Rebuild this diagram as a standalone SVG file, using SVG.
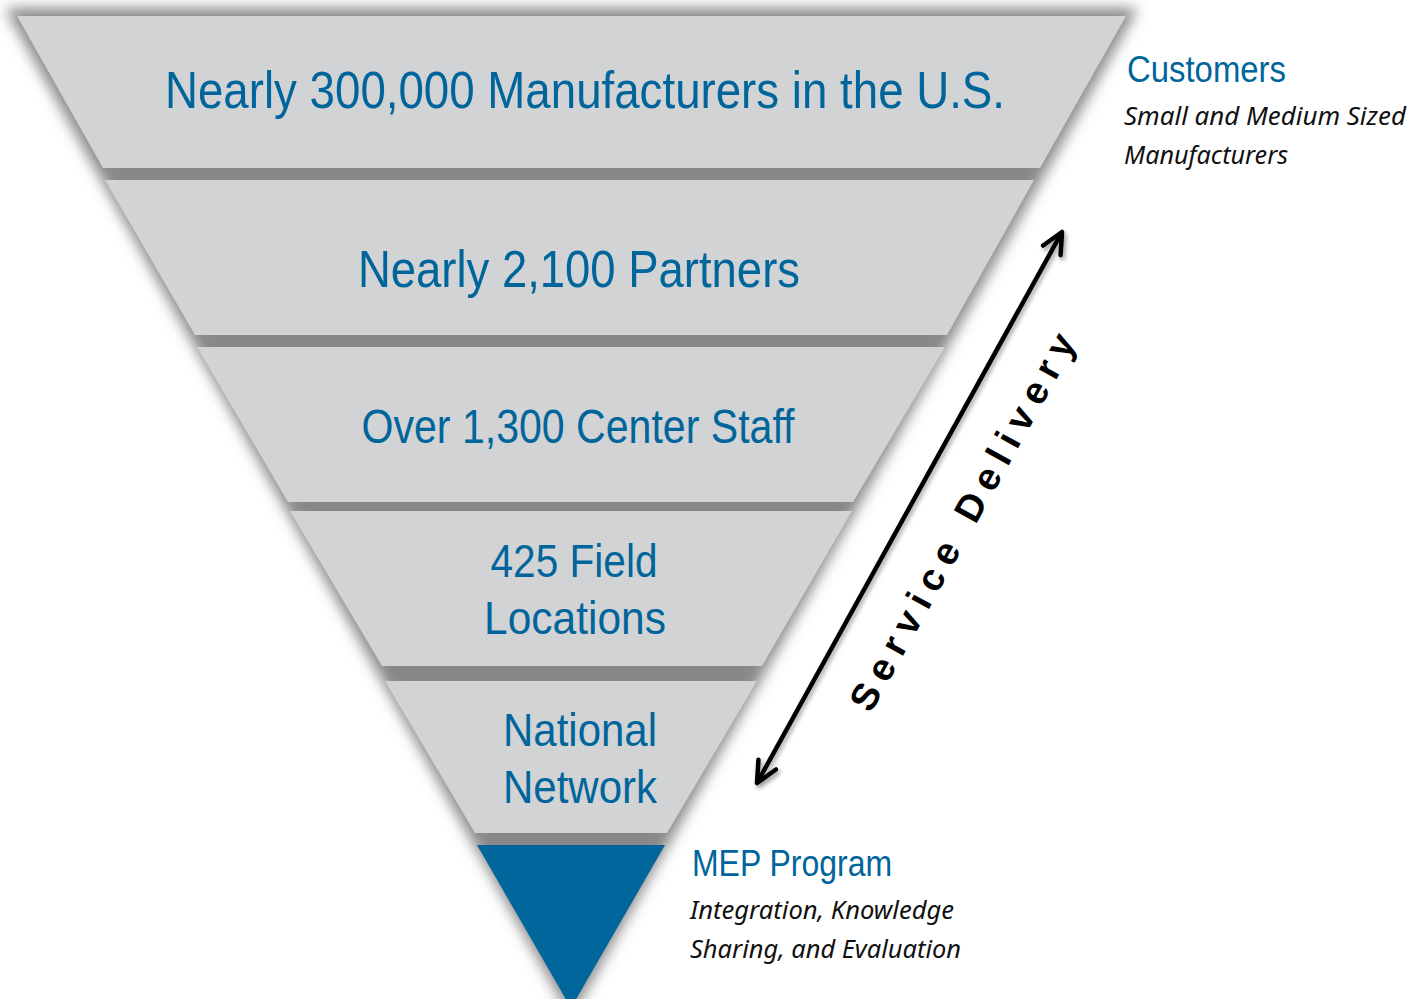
<svg xmlns="http://www.w3.org/2000/svg" width="1426" height="999" viewBox="0 0 1426 999">
<style>
.band{fill:#d2d3d5}
.lbl{font-family:"Liberation Sans",Arial,sans-serif;fill:#00659b;text-anchor:middle}
.side{font-family:"Liberation Sans",Arial,sans-serif;fill:#00659b}
.note{font-family:"Noto Sans","Open Sans",sans-serif;font-style:italic;fill:#111;font-size:25px}
.sd{font-family:"Liberation Sans",Arial,sans-serif;font-weight:bold;fill:#000;font-size:38px;text-anchor:middle}
</style>
<defs>
<filter id="blur" x="-10%" y="-10%" width="120%" height="120%"><feGaussianBlur stdDeviation="7"/></filter>
<filter id="blur2" x="-20%" y="-20%" width="140%" height="140%"><feGaussianBlur stdDeviation="2"/></filter>
<marker id="chev" viewBox="-26 -14 30 28" markerWidth="30" markerHeight="28" refX="0" refY="0" orient="auto-start-reverse" markerUnits="userSpaceOnUse">
<path d="M-21,-10 L0,0 L-21,10" fill="none" stroke="#000" stroke-width="4.5" stroke-linecap="round" stroke-linejoin="round"/>
</marker>
<marker id="chevs" viewBox="-26 -14 30 28" markerWidth="30" markerHeight="28" refX="0" refY="0" orient="auto-start-reverse" markerUnits="userSpaceOnUse">
<path d="M-21,-10 L0,0 L-21,10" fill="none" stroke="#999" stroke-width="4.5" stroke-linecap="round" stroke-linejoin="round"/>
</marker>
</defs>
<rect width="1426" height="999" fill="#fff"/>
<g id="shadow">
<polygon points="5,8 1138,8 571,1018" fill="#888" filter="url(#blur)"/>
</g>
<g id="band1"><polygon class="band" points="17,16 1126,16 1040,168 103,168"/>
<text class="lbl" x="585" y="108" font-size="52" textLength="840" lengthAdjust="spacingAndGlyphs">Nearly 300,000 Manufacturers in the U.S.</text></g>
<g id="band2"><polygon class="band" points="105,180 1034,180 947,335 195,335"/>
<text class="lbl" x="579" y="287" font-size="52" textLength="442" lengthAdjust="spacingAndGlyphs">Nearly 2,100 Partners</text></g>
<g id="band3"><polygon class="band" points="197,347 945,347 853,502 288,502"/>
<text class="lbl" x="578" y="443" font-size="48" textLength="433" lengthAdjust="spacingAndGlyphs">Over 1,300 Center Staff</text></g>
<g id="band4"><polygon class="band" points="290,511 852,511 762,666 382,666"/>
<text class="lbl" x="574" y="577" font-size="47" textLength="167" lengthAdjust="spacingAndGlyphs">425 Field</text>
<text class="lbl" x="575" y="634" font-size="47" textLength="182" lengthAdjust="spacingAndGlyphs">Locations</text></g>
<g id="band5"><polygon class="band" points="385,681 757,681 667,833 475,833"/>
<text class="lbl" x="580" y="746" font-size="47" textLength="154" lengthAdjust="spacingAndGlyphs">National</text>
<text class="lbl" x="580" y="803" font-size="47" textLength="154" lengthAdjust="spacingAndGlyphs">Network</text></g>
<g id="mep"><polygon points="477,845 665,845 571,1008" fill="#00669b"/></g>
<g id="customers">
<text class="side" x="1127" y="82" font-size="36" textLength="159" lengthAdjust="spacingAndGlyphs">Customers</text>
<text class="note" x="1124" y="125" textLength="282" lengthAdjust="spacingAndGlyphs">Small and Medium Sized</text>
<text class="note" x="1124" y="164" textLength="164" lengthAdjust="spacingAndGlyphs">Manufacturers</text>
</g>
<g id="mep-label">
<text class="side" x="692" y="876" font-size="36" textLength="200" lengthAdjust="spacingAndGlyphs">MEP Program</text>
<text class="note" x="690" y="919" textLength="264" lengthAdjust="spacingAndGlyphs">Integration, Knowledge</text>
<text class="note" x="690" y="958" textLength="271" lengthAdjust="spacingAndGlyphs">Sharing, and Evaluation</text>
</g>
<g id="connectors">
<line x1="759" y1="786" x2="1064" y2="235" stroke="#aaa" stroke-width="4.5" marker-start="url(#chevs)" marker-end="url(#chevs)" filter="url(#blur2)"/>
<line x1="757" y1="783" x2="1062" y2="232" stroke="#000" stroke-width="4.5" marker-start="url(#chev)" marker-end="url(#chev)"/>
<text class="sd" transform="translate(975,526) rotate(-61)" letter-spacing="5" textLength="430" lengthAdjust="spacing">Service Delivery</text>
</g>
</svg>
